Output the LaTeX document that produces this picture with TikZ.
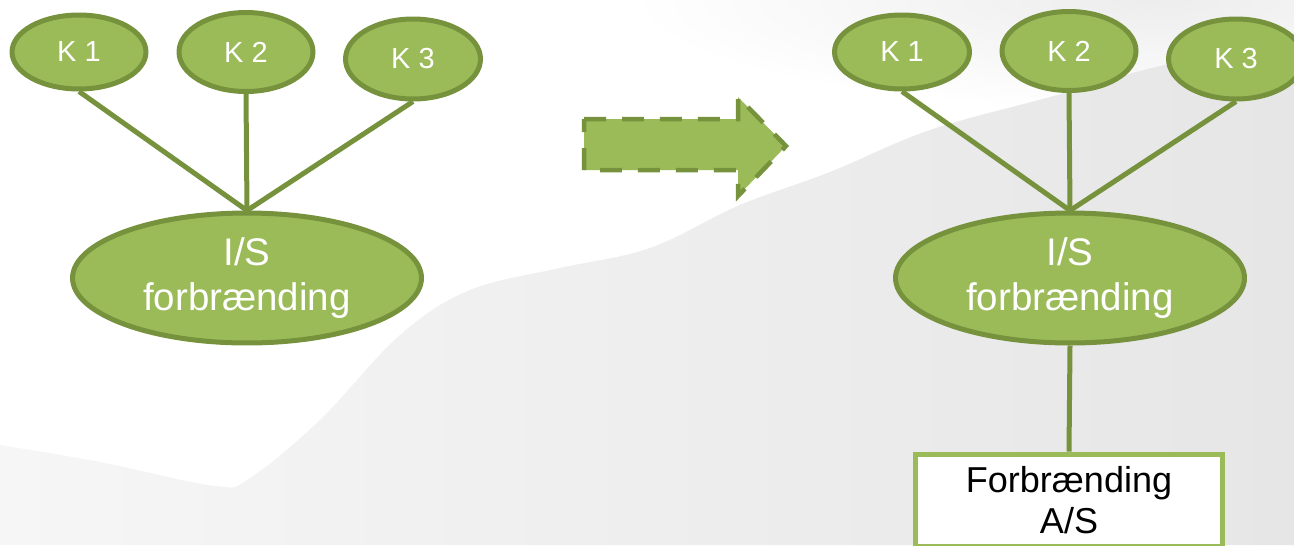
\documentclass[tikz,border=0pt]{standalone}
\usepackage{fontspec}
\setmainfont{Liberation Sans}
\usetikzlibrary{shapes.geometric}
\definecolor{gfill}{HTML}{9BBB59}
\definecolor{gline}{HTML}{76923C}
\definecolor{bgL}{RGB}{246,246,246}
\definecolor{bgR}{RGB}{230,230,230}
\definecolor{skyR}{RGB}{237,237,237}
\tikzset{
  kell/.style={ellipse, draw=gline, fill=gfill, line width=0.1cm, inner sep=0pt,
    text=white, font=\fontsize{16.5pt}{19pt}\selectfont},
  bigell/.style={ellipse, draw=gline, fill=gfill, line width=0.1cm, inner sep=0pt,
    text=white, align=center, font=\fontsize{21.9pt}{25.2pt}\selectfont,
    minimum width=6.98cm, minimum height=2.6cm},
  conn/.style={draw=gline, line width=0.1cm},
  boxnode/.style={rectangle, draw=gfill, fill=white, line width=0.1cm, inner sep=0pt,
    align=center, text=black, font=\fontsize{20.5pt}{23.6pt}\selectfont,
    minimum width=6.14cm, minimum height=1.84cm},
  arrowsty/.style={draw=gline, fill=gfill, line width=0.09cm, dash pattern=on 0.44cm off 0.32cm, line join=miter}
}
\begin{document}
\begin{tikzpicture}[x=0.02cm, y=-0.02cm]
\useasboundingbox (0,0) rectangle (1294,545);
\clip (0,0) rectangle (1294,545);
% background
\fill[white] (0,0) rectangle (1294,545);
\shade[inner color=skyR, outer color=white] (1150,0) ellipse [x radius=520, y radius=110];
\shade[left color=bgL, right color=bgR]
  plot[smooth, tension=0.6] coordinates {(0,445) (100,462) (215,486) (250,478) (320,420) (400,335) (470,290) (560,268) (650,248) (740,205) (830,172) (930,130) (1050,97) (1160,66) (1294,40)}
  -- (1294,545) -- (0,545) -- cycle;
% left group
\node[kell, minimum width=2.68cm, minimum height=1.48cm] (k1) at (79,52) {K 1};
\node[kell, minimum width=2.68cm, minimum height=1.58cm] (k2) at (246,52) {K 2};
\node[kell, minimum width=2.7cm, minimum height=1.6cm] (k3) at (413,59) {K 3};
\node[bigell] (is) at (247,278) {I/S\\forbrænding};
\draw[conn] (k1.south) -- (is.north);
\draw[conn] (k2.south) -- (is.north);
\draw[conn] (k3.south) -- (is.north);
% arrow
\draw[arrowsty] (584,119) -- (738,119) -- (738,97) -- (786,146) -- (738,196) -- (738,170) -- (584,170) -- cycle;
% right group
\node[kell, minimum width=2.7cm, minimum height=1.48cm] (rk1) at (902,52) {K 1};
\node[kell, minimum width=2.68cm, minimum height=1.58cm] (rk2) at (1069,51) {K 2};
\node[kell, minimum width=2.7cm, minimum height=1.6cm] (rk3) at (1236,59) {K 3};
\node[bigell] (ris) at (1070,278) {I/S\\forbrænding};
\node[boxnode] (fas) at (1069,500) {Forbrænding\\A/S};
\draw[conn] (rk1.south) -- (ris.north);
\draw[conn] (rk2.south) -- (ris.north);
\draw[conn] (rk3.south) -- (ris.north);
\draw[conn] (ris.south) -- (fas.north);
\end{tikzpicture}
\end{document}
